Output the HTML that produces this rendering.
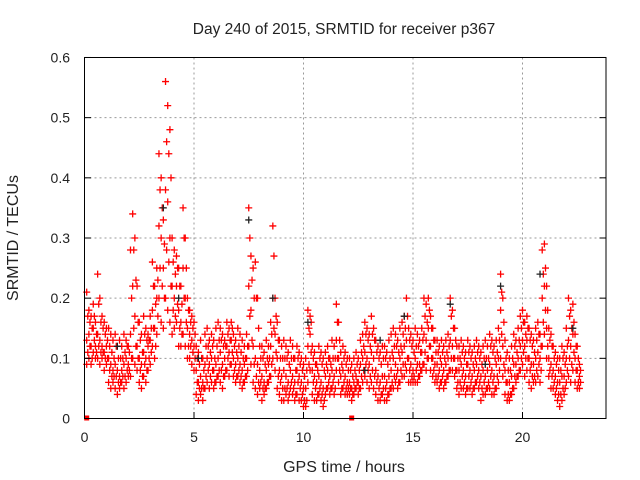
<!DOCTYPE html>
<html><head><meta charset="utf-8"><style>
body{margin:0;background:#fff}
svg{display:block;font-family:"Liberation Sans",sans-serif}
</style></head><body>
<svg id="chart" width="640" height="480" viewBox="0 0 640 480">
<rect width="640" height="480" fill="#fff"/>
<text x="344" y="34" font-size="15.5" text-anchor="middle" fill="#222">Day 240 of 2015, SRMTID for receiver p367</text>
<g id="grid"></g>
<g id="marks"></g>
<rect x="84.5" y="57.5" width="521.5" height="361" fill="none" stroke="#000" stroke-width="1"/>
<g id="ticks"></g>
<text x="344" y="472" font-size="16" text-anchor="middle" fill="#222">GPS time / hours</text>
<text x="18" y="238" font-size="16" text-anchor="middle" fill="#222" transform="rotate(-90 18 238)">SRMTID / TECUs</text>
</svg>
<script>
const xTicks=[0,5,10,15,20];
const yTicks=[0,0.1,0.2,0.3,0.4,0.5,0.6];
const yTickLabels=["0","0.1","0.2","0.3","0.4","0.5","0.6"];
const hours=[0.1,0.2,0.3,0.4,0.5,0.6,0.7,0.8,0.9,1.0,
1.1,1.2,1.3,1.4,1.5,1.6,1.7,1.8,1.9,2.0,
2.1,2.2,2.3,2.4,2.5,2.6,2.7,2.8,2.9,3.0,
3.1,3.2,3.3,3.4,3.5,3.6,3.7,3.8,3.9,4.0,
4.1,4.2,4.3,4.4,4.5,4.6,4.7,4.8,4.9,5.0,
5.1,5.2,5.3,5.4,5.5,5.6,5.7,5.8,5.9,6.0,
6.1,6.2,6.3,6.4,6.5,6.6,6.7,6.8,6.9,7.0,
7.1,7.2,7.3,7.4,7.5,7.6,7.7,7.8,7.9,8.0,
8.1,8.2,8.3,8.4,8.5,8.6,8.7,8.8,8.9,9.0,
9.1,9.2,9.3,9.4,9.5,9.6,9.7,9.8,9.9,10.0,
10.1,10.2,10.3,10.4,10.5,10.6,10.7,10.8,10.9,11.0,
11.1,11.2,11.3,11.4,11.5,11.6,11.7,11.8,11.9,12.0,
12.1,12.2,12.3,12.4,12.5,12.6,12.7,12.8,12.9,13.0,
13.1,13.2,13.3,13.4,13.5,13.6,13.7,13.8,13.9,14.0,
14.1,14.2,14.3,14.4,14.5,14.6,14.7,14.8,14.9,15.0,
15.1,15.2,15.3,15.4,15.5,15.6,15.7,15.8,15.9,16.0,
16.1,16.2,16.3,16.4,16.5,16.6,16.7,16.8,16.9,17.0,
17.1,17.2,17.3,17.4,17.5,17.6,17.7,17.8,17.9,18.0,
18.1,18.2,18.3,18.4,18.5,18.6,18.7,18.8,18.9,19.0,
19.1,19.2,19.3,19.4,19.5,19.6,19.7,19.8,19.9,20.0,
20.1,20.2,20.3,20.4,20.5,20.6,20.7,20.8,20.9,21.0,
21.1,21.2,21.3,21.4,21.5,21.6,21.7,21.8,21.9,22.0,
22.1,22.2,22.3,22.4,22.5,22.6];
const valsHi=[.21,.18,.17,.19,.16,.24,.2,.17,.16,.15,
.15,.14,.13,.14,.12,.13,.12,.14,.13,.12,
.28,.34,.3,.22,.16,.14,.17,.15,.14,.17,
.26,.22,.25,.44,.4,.33,.56,.52,.48,.3,
.28,.27,.25,.22,.35,.3,.2,.18,.17,.16,
.12,.11,.13,.1,.14,.15,.13,.14,.13,.15,
.16,.15,.14,.13,.16,.15,.16,.14,.13,.15,
.14,.13,.12,.14,.35,.27,.25,.26,.2,.12,
.12,.11,.13,.12,.16,.32,.2,.16,.13,.12,
.13,.12,.11,.13,.12,.1,.12,.11,.1,.09,
.1,.18,.17,.12,.11,.09,.12,.11,.1,.11,
.12,.1,.13,.12,.19,.16,.11,.12,.11,.1,
.1,.09,.1,.11,.1,.13,.14,.16,.15,.14,
.17,.15,.13,.12,.11,.12,.12,.11,.13,.14,
.15,.14,.13,.15,.16,.17,.2,.15,.14,.13,
.15,.14,.13,.15,.2,.19,.2,.17,.15,.13,
.13,.12,.13,.12,.13,.14,.2,.18,.15,.12,
.12,.13,.12,.11,.13,.12,.11,.12,.13,.12,
.11,.12,.13,.12,.14,.13,.12,.13,.15,.24,
.2,.13,.11,.1,.12,.14,.13,.15,.17,.18,
.16,.17,.15,.14,.13,.15,.16,.14,.28,.29,
.22,.15,.14,.12,.11,.1,.1,.12,.11,.15,
.2,.18,.19,.14,.12,.09];
const valsQ3=[.17,.16,.15,.17,.14,.19,.16,.15,.14,.13,
.12,.11,.1,.12,.1,.1,.1,.11,.12,.11,
.2,.28,.23,.16,.13,.11,.14,.13,.13,.15,
.22,.19,.23,.38,.35,.29,.46,.44,.4,.26,
.24,.25,.22,.19,.3,.25,.18,.16,.15,.14,
.1,.09,.1,.08,.12,.12,.11,.12,.1,.12,
.13,.13,.12,.12,.14,.13,.15,.12,.11,.12,
.11,.1,.1,.12,.3,.23,.2,.2,.15,.1,
.1,.09,.1,.1,.14,.27,.17,.13,.1,.1,
.1,.1,.09,.1,.1,.08,.1,.09,.08,.07,
.08,.15,.16,.1,.09,.08,.1,.09,.08,.09,
.1,.09,.1,.1,.16,.13,.09,.1,.09,.08,
.08,.07,.08,.09,.08,.11,.12,.14,.13,.12,
.14,.13,.11,.1,.09,.1,.1,.09,.1,.11,
.12,.12,.11,.12,.14,.15,.17,.13,.12,.11,
.12,.12,.11,.13,.17,.16,.18,.15,.13,.11,
.11,.1,.11,.1,.11,.12,.17,.15,.13,.1,
.1,.11,.1,.09,.11,.1,.09,.1,.11,.1,
.09,.1,.1,.1,.12,.11,.1,.11,.13,.21,
.16,.1,.08,.08,.1,.12,.11,.13,.15,.16,
.14,.15,.13,.12,.11,.13,.14,.12,.24,.25,
.18,.13,.12,.1,.09,.08,.08,.1,.09,.12,
.17,.15,.16,.12,.1,.08];
const valsMid=[.13,.14,.12,.15,.12,.14,.13,.12,.11,.12,
.1,.09,.08,.09,.08,.07,.08,.09,.1,.09,
.14,.22,.17,.12,.1,.09,.11,.1,.12,.13,
.18,.15,.2,.32,.3,.25,.38,.36,.3,.22,
.2,.22,.18,.16,.25,.2,.15,.14,.13,.12,
.08,.06,.07,.06,.09,.1,.09,.1,.08,.09,
.1,.11,.09,.1,.12,.11,.13,.1,.09,.1,
.09,.08,.09,.1,.22,.18,.12,.1,.09,.08,
.07,.06,.08,.09,.12,.2,.14,.1,.08,.07,
.08,.07,.06,.08,.07,.06,.08,.07,.06,.05,
.05,.12,.14,.08,.07,.06,.07,.06,.05,.07,
.08,.07,.08,.07,.13,.1,.07,.08,.07,.06,
.06,.05,.06,.07,.06,.09,.1,.11,.1,.09,
.11,.1,.08,.07,.06,.07,.07,.06,.07,.08,
.1,.09,.08,.1,.11,.12,.13,.1,.09,.08,
.1,.09,.09,.11,.14,.13,.15,.12,.1,.09,
.09,.08,.09,.08,.09,.1,.13,.12,.1,.08,
.08,.09,.08,.07,.09,.08,.07,.08,.09,.08,
.07,.08,.07,.08,.09,.08,.07,.09,.1,.18,
.12,.08,.06,.06,.07,.09,.09,.1,.12,.13,
.12,.13,.1,.09,.09,.1,.11,.1,.2,.22,
.15,.1,.09,.08,.07,.06,.06,.07,.07,.1,
.13,.12,.14,.1,.08,.07];
const valsQ1=[.11,.12,.1,.13,.11,.12,.11,.11,.1,.1,
.08,.07,.07,.07,.06,.06,.07,.07,.08,.08,
.1,.15,.12,.1,.08,.07,.09,.08,.1,.11,
.15,.12,.17,.25,.22,.2,.28,.26,.22,.18,
.17,.19,.15,.14,.2,.16,.12,.12,.11,.1,
.06,.05,.05,.05,.07,.08,.07,.08,.06,.07,
.08,.08,.07,.08,.1,.09,.11,.08,.07,.08,
.07,.06,.07,.08,.17,.13,.09,.07,.06,.06,
.05,.05,.06,.07,.09,.15,.11,.07,.06,.05,
.05,.05,.04,.06,.05,.04,.06,.05,.04,.03,
.03,.09,.11,.06,.05,.04,.05,.04,.03,.05,
.06,.05,.06,.05,.1,.08,.05,.06,.05,.05,
.05,.04,.05,.06,.05,.07,.08,.09,.08,.07,
.08,.07,.06,.05,.04,.05,.05,.04,.05,.06,
.07,.07,.06,.08,.09,.09,.1,.08,.07,.07,
.08,.07,.08,.09,.11,.1,.12,.1,.08,.07,
.07,.06,.07,.06,.07,.08,.1,.1,.08,.06,
.06,.07,.06,.05,.07,.06,.05,.06,.07,.06,
.05,.06,.05,.06,.07,.06,.05,.07,.08,.14,
.09,.06,.04,.04,.05,.07,.07,.08,.1,.11,
.1,.1,.08,.07,.07,.08,.09,.08,.16,.18,
.12,.08,.07,.06,.05,.04,.04,.05,.05,.08,
.1,.09,.11,.08,.06,.06];
const valsLo=[.09,.1,.09,.11,.1,.1,.09,.1,.08,.09,
.06,.05,.06,.05,.04,.05,.06,.05,.06,.07,
.07,.1,.09,.08,.06,.05,.07,.06,.08,.09,
.12,.1,.14,.2,.16,.15,.2,.18,.16,.14,
.15,.16,.12,.12,.14,.12,.1,.1,.09,.08,
.04,.03,.04,.03,.05,.06,.05,.06,.05,.06,
.07,.06,.05,.07,.08,.07,.09,.07,.06,.07,
.06,.05,.06,.07,.12,.09,.06,.05,.04,.05,
.03,.04,.05,.06,.07,.1,.08,.05,.04,.03,
.03,.04,.03,.05,.04,.03,.04,.03,.03,.02,
.02,.06,.08,.04,.03,.03,.04,.03,.02,.04,
.05,.04,.05,.04,.08,.06,.04,.05,.04,.04,
.04,.03,.04,.05,.04,.05,.06,.07,.06,.05,
.06,.05,.04,.03,.03,.04,.03,.03,.04,.05,
.05,.06,.05,.06,.07,.07,.08,.06,.06,.06,
.06,.06,.07,.08,.09,.08,.1,.08,.07,.06,
.06,.05,.06,.05,.06,.07,.08,.08,.07,.05,
.04,.05,.05,.04,.05,.05,.04,.05,.06,.05,
.03,.04,.04,.05,.05,.04,.04,.05,.06,.1,
.07,.04,.03,.03,.04,.05,.06,.07,.08,.09,
.07,.08,.06,.05,.06,.06,.07,.06,.12,.14,
.1,.07,.05,.05,.04,.03,.02,.03,.04,.06,
.07,.06,.08,.06,.05,.05];
const darkHours=[1.5,3.6,4.3,5.2,7.5,8.6,10.2,12.8,13.5,14.6,16.7,18.3,19.0,20.8,22.3];
const darkVals=[.12,.35,.2,.1,.33,.2,.16,.08,.13,.17,.19,.09,.22,.24,.15];
const zeroHours=[0.1,12.2];
const zeroVals=[0,0];

const NS="http://www.w3.org/2000/svg";
const X0=84.5,XS=21.9,Y0=418.5,YS=601.7;
function xs(v){return X0+v*XS;}
function ys(v){return Y0-v*YS;}
const grid=document.getElementById('grid'),ticks=document.getElementById('ticks'),marks=document.getElementById('marks');
function mk(tag,attrs,parent){const e=document.createElementNS(NS,tag);for(const k in attrs)e.setAttribute(k,attrs[k]);parent.appendChild(e);return e;}
xTicks.forEach((t,i)=>{
  const x=xs(t);
  if(t>0){const g=mk('line',{x1:x,x2:x,y1:57.5,y2:418.5,stroke:'#999','stroke-dasharray':'2,3'},grid);
  
  }
  const tk=mk('line',{x1:x,x2:x,y1:418.5,y2:412,stroke:'#000'},ticks);
  
  
  const tt=mk('text',{x:x,y:442,'font-size':14,'text-anchor':'middle',fill:'#222'},ticks);
  tt.textContent=String(t);
  
  
});
yTicks.forEach((t,i)=>{
  const y=ys(t);
  if(t>0&&t<0.6){const g=mk('line',{x1:84.5,x2:606,y1:y,y2:y,stroke:'#999','stroke-dasharray':'2,3'},grid);
  
  }
  const tk=mk('line',{x1:84.5,x2:91,y1:y,y2:y,stroke:'#000'},ticks);
  
  
  const tk2=mk('line',{x1:606,x2:599.5,y1:y,y2:y,stroke:'#000'},ticks);
  
  
  const tt=mk('text',{x:70,y:y+5,'font-size':14,'text-anchor':'end',fill:'#222'},ticks);
  tt.textContent=yTickLabels[i];
  
  
});
function plus(x,y,color,name){
  const p=mk('path',{d:`M${x-3.5} ${y}H${x+3.5}M${x} ${y-3.5}V${y+3.5}`,stroke:color,'stroke-width':1.3,fill:'none'},marks);
  
  
}
[valsLo,valsMid,valsHi].forEach(arr=>{
  hours.forEach((h,i)=>{plus(xs(h),ys(arr[i]),'#f00','red-point');});
});
[valsQ1,valsQ3].forEach(arr=>{
  hours.forEach((h,i)=>{plus(xs(h)+1.1,ys(arr[i]),'#f00','red-point');});
});
darkHours.forEach((h,i)=>{plus(xs(h),ys(darkVals[i]),'#222','dark-point');});
zeroHours.forEach((h,i)=>{
  const r=mk('rect',{x:xs(h)-2.5,y:ys(zeroVals[i])-3,width:5,height:5,fill:'#f00'},marks);
  
  
});
</script>
</body></html>
